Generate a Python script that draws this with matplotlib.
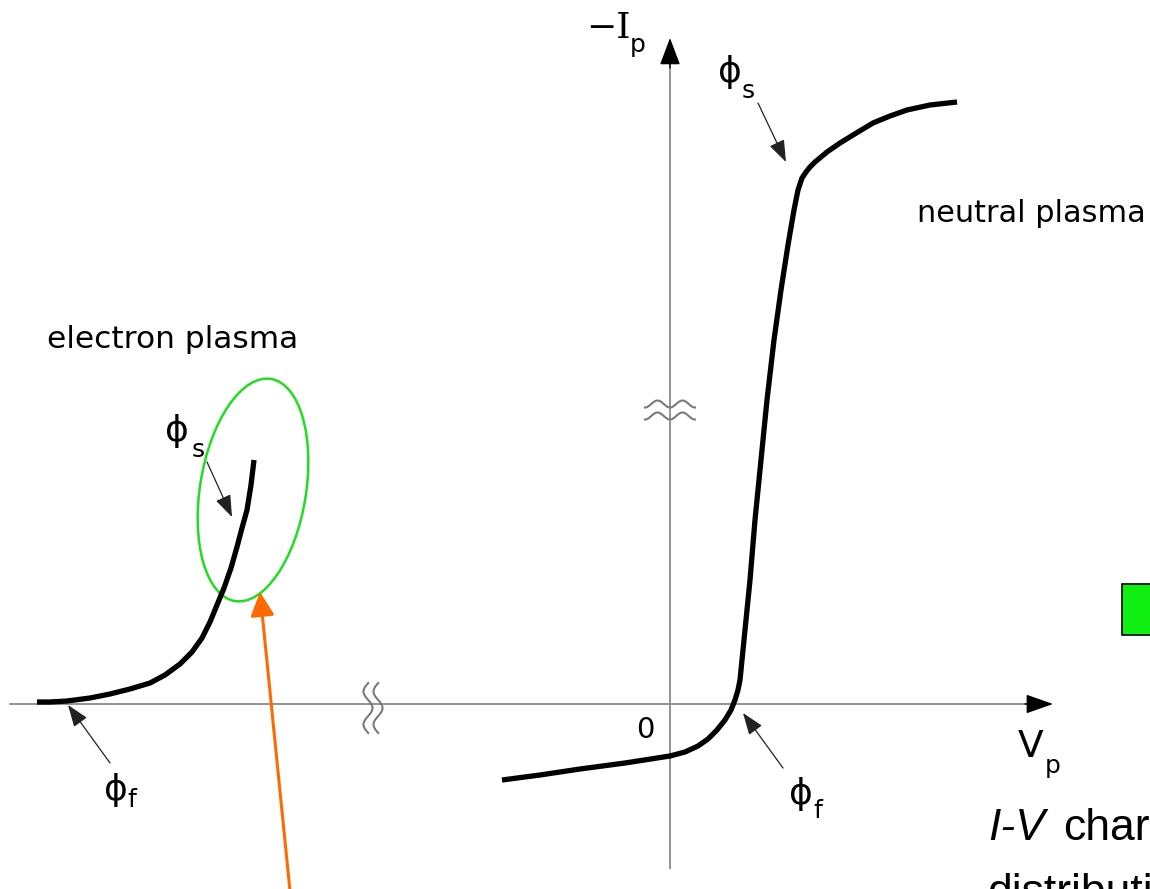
import numpy as np
import matplotlib.pyplot as plt
from matplotlib.patches import Ellipse, Rectangle

# probe characteristics, origin at the V_p / -I_p crossing
electron_v = [-633, -620, -603, -580, -560, -540, -520, -505, -490, -478, -468,
              -460, -453, -446, -439, -433, -428, -423, -419, -416]
electron_i = [2, 2, 3, 6, 10, 15, 21, 29, 40, 52, 66,
              82, 99, 116, 136, 157, 176, 194, 219, 244]

neutral_v = [-168, -130, -90, -45, 0, 15, 28, 38, 47, 55, 61, 65, 68, 70, 72,
             74, 77, 80, 85, 91, 97, 104, 111, 118, 124, 128, 132, 136, 140, 145,
             157, 170, 188, 203, 220, 237, 260, 287]
neutral_i = [-76, -71, -65, -59, -52, -48, -42, -35, -26, -16, -6, 4, 14, 24, 44,
             64, 94, 124, 184, 244, 304, 364, 414, 459, 494, 514, 526, 532, 537, 542,
             552, 561, 572, 581, 588, 594, 599, 602]

# (subscript, label centre, subscript baseline-left, arrow tail, arrow tip)
markers = [
    ("s", (-493, 273), (-478, 247), (-463, 242), (-438, 187)),
    ("s", (60, 632), (72, 606), (88, 601), (116, 542)),
    ("f", (-554, -86), (-543, -103), (-560, -59), (-602, -1)),
    ("f", (131, -90), (143, -114), (113, -64), (73, -9)),
]

axis_grey = "#8a8a8a"

fig = plt.figure(figsize=(11.5, 8.89), dpi=100)
ax = fig.add_axes([0, 0, 1, 1])
ax.set_xlim(-670, 480)
ax.set_ylim(-185, 704)
ax.axis("off")

# axes
ax.plot([-660, 370], [0, 0], color=axis_grey, lw=1.3)
ax.plot([0, 0], [-164, 650], color=axis_grey, lw=1.3)
ax.annotate("", xy=(383, 0), xytext=(355, 0),
            arrowprops=dict(arrowstyle="-|>,head_length=0.85,head_width=0.3",
                            mutation_scale=20, color="black", lw=1.0,
                            shrinkA=0, shrinkB=0))
ax.annotate("", xy=(0, 666), xytext=(0, 636),
            arrowprops=dict(arrowstyle="-|>,head_length=0.85,head_width=0.32",
                            mutation_scale=20, color="black", lw=1.0,
                            shrinkA=0, shrinkB=0))

# axis break marks
t = np.linspace(-25, 25, 80)
for y0 in (300, 288):
    ax.plot(t, y0 - 3.5 * np.cos(2 * np.pi * t / 25), color="#7a7a7a", lw=1.5)
s = np.linspace(-25, 25, 80)
for x0 in (-302, -292):
    ax.plot(x0 + 4.5 * np.cos(2 * np.pi * s / 33), s - 4, color="#7a7a7a", lw=1.5)

# curves
ax.plot(electron_v, electron_i, color="black", lw=3.8,
        solid_capstyle="butt", solid_joinstyle="round")
ax.plot(neutral_v, neutral_i, color="black", lw=3.8,
        solid_capstyle="butt", solid_joinstyle="round")

# potentials with pointers
for sub, c_phi, c_sub, tail, tip in markers:
    ax.text(*c_phi, "\u03d5", fontsize=26, ha="center", va="center",
            family="DejaVu Sans")
    ax.text(*c_sub, sub, fontsize=18, ha="left", va="baseline",
            family="DejaVu Sans")
    ax.annotate("", xy=tip, xytext=tail,
                arrowprops=dict(arrowstyle="-|>,head_length=0.9,head_width=0.33",
                                mutation_scale=15, color="#222222", lw=0.9,
                                shrinkA=0, shrinkB=0))

# axis labels
ax.text(-39, 666, "\u2212I", fontsize=26, ha="right", va="baseline",
        family="DejaVu Serif")
ax.text(-40, 652, "p", fontsize=18, ha="left", va="baseline")
ax.text(348, -53, "V", fontsize=27, ha="left", va="baseline")
ax.text(375, -69, "p", fontsize=18, ha="left", va="baseline")
ax.text(-25, -34, "0", fontsize=21, ha="center", va="baseline")

ax.text(-623, 356, "electron plasma", fontsize=22.5, ha="left", va="baseline")
ax.text(247, 482, "neutral plasma", fontsize=21.8, ha="left", va="baseline")

# highlight around the electron plasma knee
ax.add_patch(Ellipse((-417, 214), 106, 225, angle=-9.2, fill=False,
                     edgecolor="#22dd22", lw=1.8))
ax.annotate("", xy=(-410, 112), xytext=(-380, -187),
            arrowprops=dict(arrowstyle="-|>,head_length=0.8,head_width=0.4",
                            mutation_scale=18, color="#ff6a00", lw=2.2,
                            shrinkA=0, shrinkB=0))

ax.add_patch(Rectangle((452, 69), 60, 51, facecolor="#11ee11",
                       edgecolor="black", lw=1.2, clip_on=False))

# caption running off the right edge
ax.text(318, -136, "I-V", fontsize=32, ha="left", va="baseline",
        style="italic", family="Liberation Sans")
ax.text(393, -136, "characteristics", fontsize=32, ha="left", va="baseline",
        family="Liberation Sans")
ax.text(317, -201, "distribution", fontsize=32, ha="left", va="baseline",
        family="Liberation Sans")

fig.savefig("out.png", dpi=100)
